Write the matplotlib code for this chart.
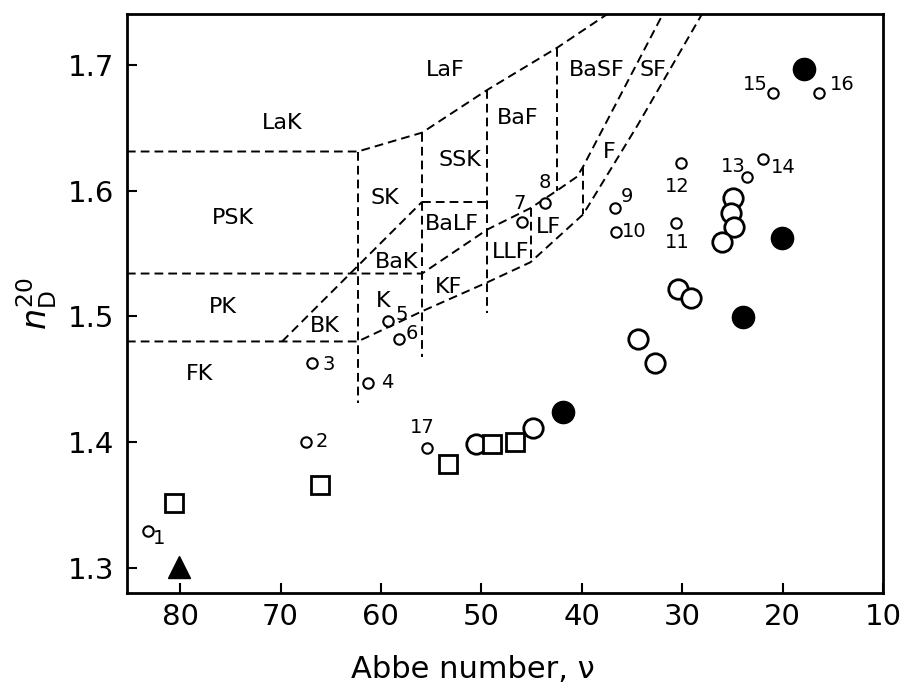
import matplotlib.pyplot as plt

plt.rcParams['font.family'] = ['DejaVu Sans']
plt.rcParams['mathtext.fontset'] = 'dejavusans'

# glass-family boundaries of the Abbe diagram (nu, n)
upper_v = [85.3, 62.3, 55.9, 49.4, 42.45, 37.4]
upper_n = [1.631, 1.631, 1.646, 1.680, 1.7135, 1.7405]
mid_v = [85.3, 55.9, 49.4, 45.1, 42.45, 40.46, 39.86, 31.9]
mid_n = [1.534, 1.534, 1.569, 1.586, 1.600, 1.611, 1.619, 1.7405]
low_v = [85.3, 62.3, 55.9, 49.4, 45.1, 39.86, 34.5, 28.0]
low_n = [1.480, 1.480, 1.504, 1.527, 1.543, 1.581, 1.651, 1.7405]
diag_v = [69.84, 55.9]
diag_n = [1.480, 1.591]
balf_v = [55.9, 49.4]
balf_n = [1.591, 1.591]
vert_v = [62.3, 55.9, 49.4, 42.45, 45.1, 39.86]
vert_top = [1.631, 1.646, 1.680, 1.7135, 1.586, 1.619]
vert_bot = [1.431, 1.468, 1.503, 1.600, 1.543, 1.581]

region_names = ['LaK', 'LaF', 'BaSF', 'SF', 'BaF', 'SSK', 'SK', 'PSK', 'BaLF', 'LF',
                'LLF', 'F', 'BaK', 'KF', 'K', 'PK', 'BK', 'FK']
region_v = [69.8, 53.6, 38.5, 32.9, 46.4, 52.1, 59.6, 74.7, 52.9, 43.35,
            47.1, 37.3, 58.4, 53.3, 59.8, 75.7, 65.6, 78.1]
region_n = [1.654, 1.696, 1.696, 1.696, 1.658, 1.6245, 1.594, 1.578, 1.573, 1.571,
            1.551, 1.631, 1.543, 1.5235, 1.512, 1.507, 1.492, 1.454]

# numbered liquids (small open circles)
num_labels = [str(i) for i in range(1, 18)]
num_v = [83.19, 67.45, 66.85, 61.27, 59.28, 58.19, 45.94, 43.65, 36.67, 36.57,
         30.60, 30.10, 23.53, 21.93, 20.94, 16.35, 55.40]
num_n = [1.3296, 1.4003, 1.4631, 1.4472, 1.4965, 1.4822, 1.5752, 1.5903, 1.5863, 1.5672,
         1.5744, 1.6221, 1.6110, 1.6253, 1.6777, 1.6777, 1.3955]
num_off = [(8, -6), (11.5, 0), (12, -1), (13.5, 0), (10, 4.5), (9.5, 3.5), (-2, 13),
           (0, 14.5), (8.5, 8), (13, 0), (0.5, -14.5), (-3, -17), (-10, 7), (14.5, -6),
           (-13, 6), (16.5, 6), (-3.5, 14.5)]

open_v = [24.92, 25.12, 24.82, 26.02, 30.40, 29.10, 34.38, 32.69, 50.52, 44.84]
open_n = [1.5943, 1.5824, 1.5712, 1.5593, 1.5219, 1.5148, 1.4822, 1.4631, 1.3987, 1.4114]
square_v = [48.92, 46.63, 53.31, 66.06, 80.60]
square_n = [1.3987, 1.4003, 1.3828, 1.3661, 1.3518]
filled_v = [41.85, 20.04, 23.92, 17.85]
filled_n = [1.4242, 1.5625, 1.4997, 1.6968]
tri_v = [80.1]
tri_n = [1.301]

fig = plt.figure(figsize=(9, 6.88), dpi=100)
ax = fig.add_axes([0.141, 0.138, 0.840, 0.842])

dash = dict(color='black', lw=1.4, linestyle=(0, (4.5, 2.6)))
for xs, ys in [(upper_v, upper_n), (mid_v, mid_n), (low_v, low_n),
               (diag_v, diag_n), (balf_v, balf_n)]:
    ax.plot(xs, ys, **dash)
for v, t, b in zip(vert_v, vert_top, vert_bot):
    ax.plot([v, v], [t, b], **dash)

for name, v, n in zip(region_names, region_v, region_n):
    ax.text(v, n, name, fontsize=16, ha='center', va='center')

ax.plot(num_v, num_n, 'o', ms=7.5, mfc='white', mec='black', mew=1.5, ls='none')
for lab, v, n, off in zip(num_labels, num_v, num_n, num_off):
    ax.annotate(lab, (v, n), xytext=off, textcoords='offset points',
                ha='center', va='center', fontsize=14)

ax.plot(open_v, open_n, 'o', ms=14, mfc='white', mec='black', mew=2, ls='none')
ax.plot(square_v, square_n, 's', ms=13.5, mfc='white', mec='black', mew=2, ls='none')
ax.plot(filled_v, filled_n, 'o', ms=16, color='black', ls='none')
ax.plot(tri_v, tri_n, '^', ms=16, color='black', ls='none')

ax.set_xlim(85.3, 10)
ax.set_ylim(1.280, 1.7405)
ax.set_xticks([80, 70, 60, 50, 40, 30, 20, 10])
ax.set_yticks([1.3, 1.4, 1.5, 1.6, 1.7])
ax.tick_params(direction='in', length=7, width=1.5, labelsize=21, pad=7)
ax.tick_params(axis='y', pad=9)
for s in ax.spines.values():
    s.set_linewidth(2)

ax.set_xlabel('Abbe number, ν', fontsize=22)
ax.xaxis.set_label_coords(0.458, -0.107)
ax.set_ylabel(r'$n_{\mathrm{D}}^{20}$', fontsize=24)
ax.yaxis.set_label_coords(-0.09, 0.5)

fig.savefig('out.png', dpi=100)
